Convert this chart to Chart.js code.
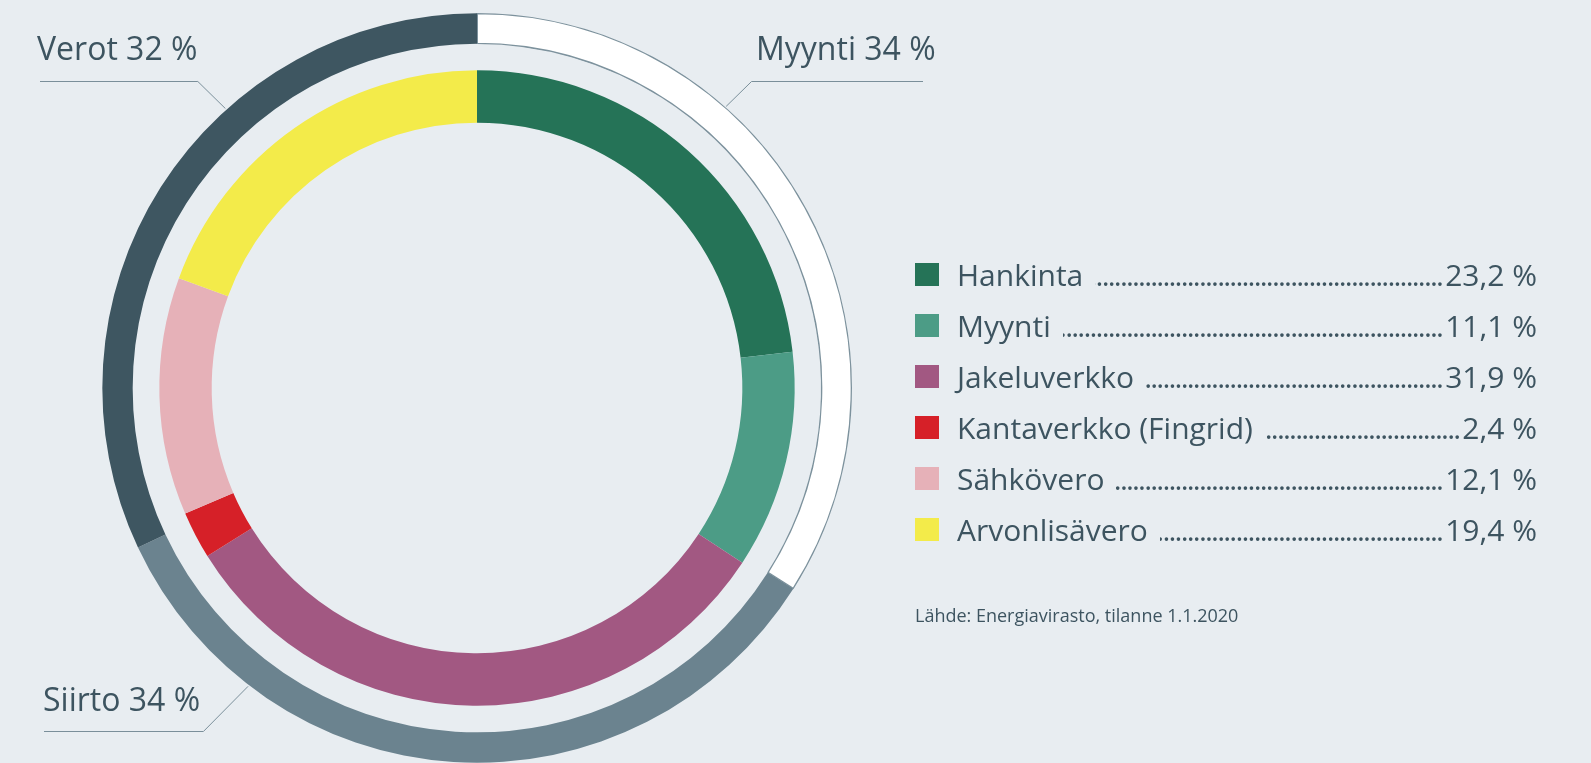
<!DOCTYPE html>
<html>
<head>
<meta charset="utf-8">
<script src="https://cdn.jsdelivr.net/npm/chart.js@4"></script>
<style>
html,body{margin:0;padding:0;background:#e8edf1;}
#wrap{position:relative;width:1591px;height:763px;overflow:hidden;background:#e8edf1;font-family:"Open Sans","Noto Sans",sans-serif;color:#3d5460;}
#c{position:absolute;left:0;top:0;}
.lbl{position:absolute;font-size:32px;line-height:32px;white-space:nowrap;}
.sw{position:absolute;left:915px;width:24px;height:23px;}
.row{position:absolute;left:957px;width:580px;height:30px;display:flex;font-size:30px;line-height:30px;white-space:nowrap;}
.row .fill{flex:1;min-width:0;overflow:hidden;direction:rtl;letter-spacing:-1.8px;margin:0 3px 0 12px;}
.src{position:absolute;left:915px;font-size:18px;line-height:18px;white-space:nowrap;}
</style>
</head>
<body>
<div id="wrap">
<canvas id="c" width="1591" height="763"></canvas>
</div>
<script>
// Outer ring (groups)
const groupLabels = ['Myynti', 'Siirto', 'Verot'];
const groupValues = [34, 34, 32];
const groupColors = ['#ffffff', '#6b838f', '#3e5661'];

// Inner ring (components)
const categories = ['Hankinta', 'Myynti', 'Jakeluverkko', 'Kantaverkko (Fingrid)', 'Sähkövero', 'Arvonlisävero'];
const values = [23.2, 11.1, 31.9, 2.4, 12.1, 19.4];
const colors = ['#257357', '#4c9c86', '#a25882', '#d62028', '#e6b1b8', '#f3eb4a'];

const sourceText = 'Lähde: Energiavirasto, tilanne 1.1.2020';

// callout anchor angles (degrees clockwise from top) for the outer ring labels
const calloutAngles = [41.5, 217.5, 318];
const calloutLineY = [81, 731, 81];
const calloutEndX = [923, 44, 40];
const calloutTextPos = [[756, 60.7], [43, 711], [37, 60.7]];

const fmt = v => v.toFixed(1).replace('.', ',') + ' %';
const fmtInt = v => v + ' %';

const wrap = document.getElementById('wrap');

// HTML labels for outer ring
groupLabels.forEach((g, i) => {
  const d = document.createElement('div');
  d.className = 'lbl';
  d.textContent = g + ' ' + fmtInt(groupValues[i]);
  d.style.left = calloutTextPos[i][0] + 'px';
  d.style.top = (calloutTextPos[i][1] - 0.888 * 32) + 'px';
  wrap.appendChild(d);
});

// Legend
categories.forEach((c, i) => {
  const top = 263 + i * 51;
  const sw = document.createElement('div');
  sw.className = 'sw';
  sw.style.top = top + 'px';
  sw.style.background = colors[i];
  wrap.appendChild(sw);
  const row = document.createElement('div');
  row.className = 'row';
  row.style.top = (286.7 - 0.888 * 30) + 'px';
  row.style.top = (286.7 + i * 51 - 0.888 * 30) + 'px';
  const a = document.createElement('span'); a.textContent = c;
  const f = document.createElement('span'); f.className = 'fill'; f.textContent = '.'.repeat(150);
  const b = document.createElement('span'); b.textContent = fmt(values[i]);
  row.appendChild(a); row.appendChild(f); row.appendChild(b);
  wrap.appendChild(row);
});

const src = document.createElement('div');
src.className = 'src';
src.textContent = sourceText;
src.style.top = (622.3 - 0.888 * 18) + 'px';
wrap.appendChild(src);

const calloutPlugin = {
  id: 'callouts',
  afterDatasetsDraw(chart) {
    const arc = chart.getDatasetMeta(0).data[0];
    const cx = arc.x, cy = arc.y, r = arc.outerRadius + 1;
    const ctx = chart.ctx;
    ctx.save();
    ctx.strokeStyle = '#7a8f9a';
    ctx.lineWidth = 1;
    calloutAngles.forEach((deg, i) => {
      const t = deg * Math.PI / 180;
      const px = cx + r * Math.sin(t);
      const py = cy - r * Math.cos(t);
      const ly = calloutLineY[i];
      const dy = Math.abs(ly - py);
      const ex = calloutEndX[i];
      const dir = ex > px ? 1 : -1;
      const kx = px + dir * dy;
      ctx.beginPath();
      ctx.moveTo(px, py);
      ctx.lineTo(kx, ly + 0.5);
      ctx.lineTo(ex, ly + 0.5);
      ctx.stroke();
    });
    ctx.restore();
  }
};

new Chart(document.getElementById('c'), {
  type: 'doughnut',
  data: {
    labels: categories,
    datasets: [
      {
        label: 'Ryhmät',
        data: groupValues,
        backgroundColor: groupColors,
        borderColor: ['#7d929d', groupColors[1], groupColors[2]],
        borderWidth: [1, 0, 0],
        borderAlign: 'inner',
        weight: 31
      },
      {
        label: '',
        data: [1],
        backgroundColor: 'rgba(0,0,0,0)',
        borderWidth: 0,
        borderAlign: 'inner',
        weight: 26
      },
      {
        label: 'Osuudet',
        data: values,
        backgroundColor: colors,
        borderWidth: 0,
        borderAlign: 'inner',
        weight: 53
      }
    ]
  },
  options: {
    responsive: false,
    animation: false,
    events: [],
    devicePixelRatio: 1,
    cutout: 265,
    layout: { padding: { left: 102, right: 739, top: 13, bottom: 0 } },
    plugins: { legend: { display: false }, tooltip: { enabled: false } }
  },
  plugins: [calloutPlugin]
});
</script>
</body>
</html>
